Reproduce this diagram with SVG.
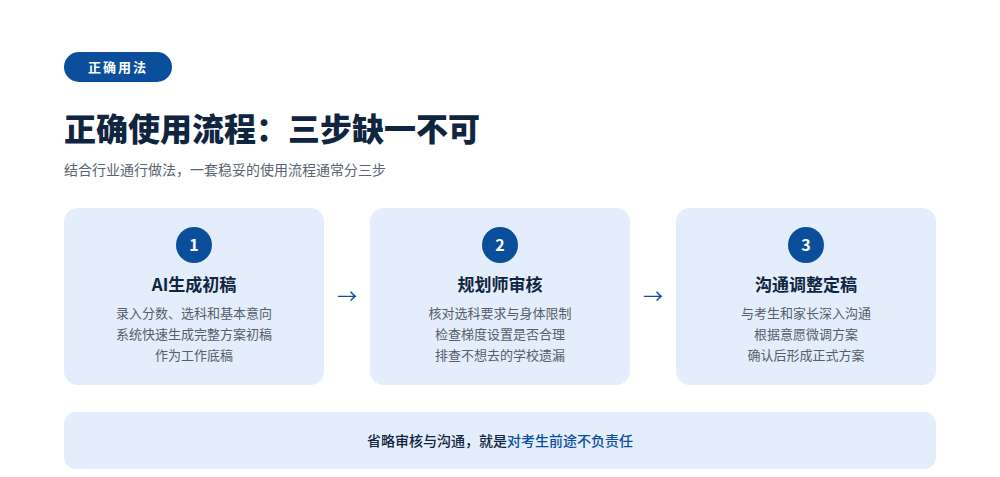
<svg xmlns="http://www.w3.org/2000/svg" width="1000" height="477" viewBox="0 0 1000 477">
<style>
text{font-family:"Noto Sans CJK SC","Noto Sans",sans-serif}
.card{fill:#e3edfb}
.circ{fill:#0b4f9c}
.num{fill:#fff;font-size:16px;font-weight:700;text-anchor:middle}
.ttl{fill:#0f2540;font-size:17px;font-weight:700;text-anchor:middle}
.desc{fill:#555e6a;font-size:13px;text-anchor:middle}
.arr{fill:#0b4f9c;font-size:20px;text-anchor:middle}
</style>
<rect width="1000" height="477" fill="#fff"/>
<g id="badge">
<rect x="64" y="52" width="108" height="30" rx="15" fill="#0b4f9c"/>
<text x="118" y="72" fill="#fff" font-size="13" font-weight="700" text-anchor="middle" letter-spacing="2">正确用法</text>
</g>
<text x="64" y="141" fill="#0f2540" font-size="32" font-weight="900">正确使用流程：三步缺一不可</text>
<text x="64" y="175" fill="#5a6470" font-size="14">结合行业通行做法，一套稳妥的使用流程通常分三步</text>
<g id="step1">
<rect class="card" x="64" y="208" width="260" height="177" rx="14"/>
<circle class="circ" cx="194" cy="245" r="18"/>
<text class="num" x="194" y="251">1</text>
<text class="ttl" x="194" y="291">AI生成初稿</text>
<text class="desc" x="194" y="318">录入分数、选科和基本意向</text>
<text class="desc" x="194" y="339">系统快速生成完整方案初稿</text>
<text class="desc" x="194" y="360">作为工作底稿</text>
</g>
<g id="step2">
<rect class="card" x="370" y="208" width="260" height="177" rx="14"/>
<circle class="circ" cx="500" cy="245" r="18"/>
<text class="num" x="500" y="251">2</text>
<text class="ttl" x="500" y="291">规划师审核</text>
<text class="desc" x="500" y="318">核对选科要求与身体限制</text>
<text class="desc" x="500" y="339">检查梯度设置是否合理</text>
<text class="desc" x="500" y="360">排查不想去的学校遗漏</text>
</g>
<g id="step3">
<rect class="card" x="676" y="208" width="260" height="177" rx="14"/>
<circle class="circ" cx="806" cy="245" r="18"/>
<text class="num" x="806" y="251">3</text>
<text class="ttl" x="806" y="291">沟通调整定稿</text>
<text class="desc" x="806" y="318">与考生和家长深入沟通</text>
<text class="desc" x="806" y="339">根据意愿微调方案</text>
<text class="desc" x="806" y="360">确认后形成正式方案</text>
</g>
<g id="connectors">
<text class="arr" x="347" y="304">→</text>
<text class="arr" x="653" y="304">→</text>
</g>
<g id="note">
<rect class="card" x="64" y="412" width="872" height="57" rx="12"/>
<text x="500" y="446" font-size="14" font-weight="500" text-anchor="middle" fill="#0f2540">省略审核与沟通，就是<tspan fill="#0b4f9c">对考生前途不负责任</tspan></text>
</g>
</svg>
